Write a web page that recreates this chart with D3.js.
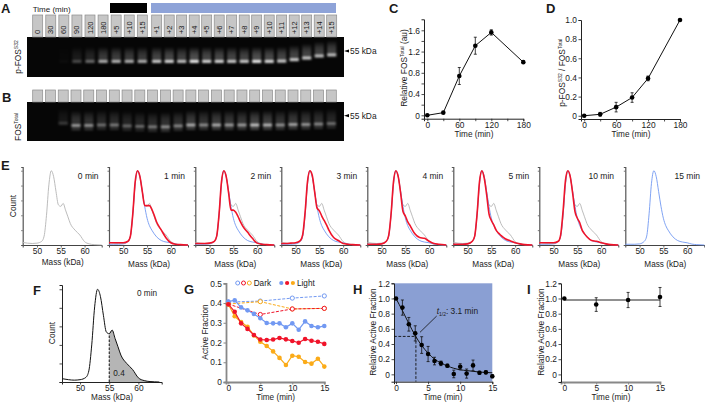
<!DOCTYPE html>
<html><head><meta charset="utf-8">
<script src="https://cdn.jsdelivr.net/npm/d3@7"></script>
<style>html,body{margin:0;padding:0;background:#fff}svg{display:block}text{font-family:"Liberation Sans",Arial,sans-serif;fill:#1a1a1a}</style>
</head><body><svg id="c" width="705" height="403"></svg>
<script>
// ---- data ----
const laneLabels=["0","30","60","90","120","180","+5","+10","+15","+1","+2","+3","+4","+5","+6","+7","+8","+9","+10","+11","+12","+13","+14","+15"];
const pfosIntensity=[0,0,.03,.28,.42,.72,.75,.72,.72,.85,.9,.8,1,.9,.9,.85,.85,1,.92,.85,.85,.85,.8,.8];
const pfosMass=[53,53,53,53,53,53,53,53,53,53,53,53,53,53,53,53,53,53,53,53.06,53.34,53.66,54.06,54.26];
const totalIntensity=[0,0,.22,.62,.58,.45,.5,.42,.42,.5,.6,.55,.72,.58,.72,.65,.65,.82,.75,.6,.68,.62,.55,.45];
const totalMass=[53,53,53.4,52.9,52.9,53,53,52.8,52.7,52.6,52.6,52.8,53,53,53,53,53,53,53,53,53.1,53.1,53.2,53.3];

const timeC=[0,30,60,90,120,180];
const valuesC=[0,.05,.74,1.31,1.56,1.0];
const errorsC=[0,0,.16,.16,.05,0];
const valuesD=[0,.015,.09,.19,.39,1.0];
const errorsD=[0,.02,.05,.05,.025,0];

const massAxis=[47,48,49,50,51,51.5,52,52.5,53,53.5,54,54.5,55,55.5,56,56.5,57,58,59,60,61,62,63.6];
const grayCurve=[.035,.025,.02,.025,.05,.12,.4,.81,1,.92,.72,.54,.52,.56,.47,.38,.29,.2,.135,.045,.015,.005,0];
const blueCurve=[.01,.01,.01,.015,.05,.12,.42,.83,1,.92,.72,.52,.36,.26,.2,.15,.11,.06,.04,.03,.012,.005,0];
const red1=[.03,.03,.03,.03,.05,.12,.42,.85,1,.92,.72,.53,.53,.53,.48,.4,.31,.2,.095,.03,.01,.005,0];
const red2=[.02,.02,.02,.025,.05,.12,.42,.85,1,.92,.7,.47,.47,.44,.38,.31,.25,.17,.09,.025,.01,.005,0];
const red3=[.02,.02,.025,.03,.06,.14,.44,.85,1,.94,.72,.5,.46,.39,.33,.27,.2,.1,.06,.02,.01,.005,0];
const red4=[.01,.01,.01,.015,.05,.13,.42,.85,1,.92,.7,.45,.39,.31,.26,.2,.15,.1,.09,.05,.02,.01,0];
const red5=[.01,.01,.01,.015,.05,.12,.42,.85,1,.9,.68,.42,.33,.27,.2,.16,.13,.08,.055,.03,.015,.005,0];
const red10=[.03,.03,.03,.03,.05,.14,.46,.87,1,.92,.7,.45,.36,.3,.2,.15,.11,.06,.05,.03,.015,.005,0];
const panelsE=[{label:"0 min",red:null,gray:true,blue:false},{label:"1 min",red:red1,gray:true,blue:true},{label:"2 min",red:red2,gray:true,blue:true},{label:"3 min",red:red3,gray:true,blue:true},{label:"4 min",red:red4,gray:true,blue:true},{label:"5 min",red:red5,gray:true,blue:true},{label:"10 min",red:red10,gray:true,blue:true},{label:"15 min",red:null,gray:false,blue:true}];

const minutes=[0,1,2,3,4,5,6,7,8,9,10,11,12,13,14,15];
const lightBlue=[.407,.414,.378,.363,.345,.323,.299,.297,.297,.277,.297,.265,.307,.284,.277,.284];
const lightRed=[.394,.356,.297,.269,.238,.215,.213,.215,.223,.216,.208,.199,.218,.209,.204,.193];
const lightOrange=[.394,.333,.304,.28,.236,.204,.182,.155,.122,.086,.133,.128,.101,.093,.118,.078];
const darkTimes=[0,5,10,15];
const darkBlue=[.405,.41,.425,.436];
const darkRed=[.395,.342,.37,.373];
const darkOrange=[.395,.407,.37,.373];

const relH=[1,.88,.66,.54,.386,.268,.175,.145,.114,.005,.10,.01,.118,.02,.026,-.026];
const errH=[0,.1,.09,.1,.11,.1,.05,.03,.02,.05,.04,.06,.07,.02,.02,.02];
const fitH=[1,.84,.67,.51,.38,.28,.2,.15,.11,.08,.06,.05,.04,.03,.025,.02];
const halfLife=3.1;
const timeI=[0,5,10,15];
const relI=[1,.92,.98,1.02];
const errI=[0,.09,.1,.125];
const fitI=[.98,.98,.98,.98];

// ---- drawing ----
const svg=d3.select("#c");
const F='"Liberation Sans",Arial,sans-serif';
const BLUE="#7299f2",RED="#f0142a",ORANGE="#fbab18",GRAY="#b4b4b4";
const defs=svg.append("defs");
defs.append("filter").attr("id","bl").attr("x","-30%").attr("y","-60%").attr("width","160%").attr("height","220%").append("feGaussianBlur").attr("stdDeviation",1);
const sg=defs.append("linearGradient").attr("id","smear").attr("x1",0).attr("x2",0).attr("y1",0).attr("y2",1);
[[0,0],[.4,.6],[.75,.85],[1,.3]].forEach(([o,a])=>sg.append("stop").attr("offset",o).attr("stop-color","#fff").attr("stop-opacity",a));

function txt(x,y,s,o={}){const t=svg.append("text").attr("x",x).attr("y",y).attr("font-size",o.size||8.2).attr("text-anchor",o.anchor||"middle").attr("dominant-baseline","central").text(s);
 if(o.bold)t.attr("font-weight","bold");if(o.rot)t.attr("transform",`rotate(${o.rot} ${x} ${y})`);return t;}
function vtxt(x,y,parts){const t=svg.append("text").attr("transform",`translate(${x},${y}) rotate(-90)`).attr("text-anchor","middle").attr("font-size",8.4);
 let prevSup=false;parts.forEach((p,i)=>{const s=t.append("tspan").text(p[0]);const sup=!!p[1];
  if(i==0)s.attr("dy",3);else if(sup&&!prevSup)s.attr("dy",-3);else if(!sup&&prevSup)s.attr("dy",3);
  if(sup)s.attr("font-size",5);prevSup=sup;});return t;}
[["A",1,8],["B",2,97],["C",389,8],["D",546,8],["E",1,165],["F",33,290],["G",184,289],["H",353,289],["I",527,289]].forEach(d=>txt(d[1],d[2],d[0],{size:13,bold:true,anchor:"start"}));

function gel(top,bot,boxTop,xs,inten,mass,yMass,smearK,labels,second){
 svg.append("rect").attr("x",27).attr("y",top).attr("width",317).attr("height",bot-top).attr("fill","#060606");
 const g=svg.append("g").attr("filter","url(#bl)");
 inten.forEach((v,i)=>{
  if(v<=0)return;const x=xs(i),ym=yMass(mass[i]),yt=yMass(mass[i]+smearK);
  g.append("rect").attr("x",x-4.6).attr("width",9.2).attr("y",yt).attr("height",ym-yt).attr("fill","url(#smear)").attr("opacity",v*.36);
  g.append("rect").attr("x",x-4.6).attr("width",9.2).attr("y",ym-1.4).attr("height",3).attr("fill","#fff").attr("opacity",v*.95);
  if(second&&v>.3)g.append("rect").attr("x",x-4.4).attr("width",8.8).attr("y",ym+2.6).attr("height",2.2).attr("fill","#fff").attr("opacity",v*.35);
 });
 inten.forEach((v,i)=>{
  svg.append("rect").attr("x",xs(i)-5).attr("width",10).attr("y",boxTop).attr("height",top-boxTop).attr("fill","#c6c6c6").attr("stroke","#8c8c8c").attr("stroke-width",.7);
  if(labels)txt(xs(i),34,labels[i],{size:7.5,anchor:"start",rot:-90});
 });
}
const xsA=d3.scaleLinear().domain([0,8,9,23]).range([37.7,142.3,156.7,331.7]);
const xsB=d3.scaleLinear().domain([0,23]).range([37.7,331.3]);
gel(37,77,15,xsA,pfosIntensity,pfosMass,d3.scaleLinear().domain([55,53]).range([51,61.3]),2.8,laneLabels,false);
gel(102,141,90,xsB,totalIntensity,totalMass,d3.scaleLinear().domain([55,53]).range([115.7,125]),3.2,null,true);
txt(32.7,9,"Time (min)",{anchor:"start",size:8});
svg.append("rect").attr("x",110).attr("y",3).attr("width",37).attr("height",10).attr("fill","#000");
svg.append("rect").attr("x",151).attr("y",3).attr("width",185).attr("height",10).attr("fill","#8ea3d8");
vtxt(18,57,[["p-FOS"],["S32",1]]);
vtxt(18,127,[["FOS"],["Total",1]]);
[51,115.7].forEach(y=>{svg.append("path").attr("d",`M344 ${y}l5 -1.6v3.2z`).attr("fill","#000");txt(350,y,"55 kDa",{anchor:"start",size:8.4});});

function axisB(scale,y,vals,o={}){const a=svg.append("g").attr("transform",`translate(0,${y})`).call(d3.axisBottom(scale).tickValues(vals).tickSize(o.t||2.5).tickPadding(.5).tickFormat(o.fmt||(d=>d)));style(a,o);return a;}
function axisL(scale,x,vals,o={}){const a=svg.append("g").attr("transform",`translate(${x},0)`).call(d3.axisLeft(scale).tickValues(vals).tickSize(o.t||2.5).tickPadding(1.5).tickFormat(o.fmt||(d=>d)));style(a,o);return a;}
function style(a,o){a.attr("font-size",8.4).attr("font-family",F);a.select(".domain").attr("stroke",o.col||"#222").attr("stroke-width",o.w||1);a.selectAll(".tick line").attr("stroke",o.col||"#222").attr("stroke-width",o.tw||.8);}
function points(xs,ys,errs,x,y,r){
 if(errs)xs.forEach((t,i)=>{if(!errs[i])return;const X=x(t),a=y(ys[i]-errs[i]),b=y(ys[i]+errs[i]);
  svg.append("path").attr("d",`M${X} ${a}V${b}M${X-1.5} ${a}h3M${X-1.5} ${b}h3`).attr("stroke","#111").attr("stroke-width",.8).attr("fill","none");});
 svg.append("g").selectAll("circle").data(xs).join("circle").attr("cx",d=>x(d)).attr("cy",(d,i)=>y(ys[i])).attr("r",r||2.3).attr("fill","#000");
}
function simpleLine(xs,ys,x,y,curve){return d3.line().x((d,i)=>x(xs[i])).y(d=>y(d)).curve(curve||d3.curveLinear)(ys);}

// C
{const x=d3.scaleLinear().domain([-6.2,180]).range([424,523.3]),y=d3.scaleLinear().domain([-.064,1.807]).range([118.7,19.3]);
 axisB(x,118.7,[0,30,60,90,120,150,180],{fmt:d=>d%60==0?d:""});
 axisL(y,424,[0,.2,.4,.6,.8,1,1.2,1.4,1.6],{fmt:d=>Math.round(d*10)%4==0?d:""});
 svg.append("path").attr("d",simpleLine(timeC,valuesC,x,y)).attr("fill","none").attr("stroke","#111").attr("stroke-width",1);
 points(timeC,valuesC,errorsC,x,y);
 txt(474,134,"Time (min)");vtxt(404,68,[["Relative FOS"],["Total",1],[" (au)"]]);}
// D
{const x=d3.scaleLinear().domain([-6,180]).range([581,680]),y=d3.scaleLinear().domain([-.034,1]).range([119,20]);
 axisB(x,119,[0,30,60,90,120,150,180],{fmt:d=>d%60==0?d:""});
 axisL(y,581,[0,.2,.4,.6,.8,1],{fmt:d=>d==0?"0":d.toFixed(1)});
 svg.append("path").attr("d",simpleLine(timeC,valuesD,x,y)).attr("fill","none").attr("stroke","#111").attr("stroke-width",1);
 points(timeC,valuesD,errorsD,x,y);
 txt(631,134,"Time (min)");vtxt(562.3,72.7,[["p-FOS"],["S32",1],[" / FOS"],["Total",1]]);}
// E
const curve=d3.curveMonotoneX;
panelsE.forEach((p,i)=>{
 const ax=[22.7,109,195.3,281.3,367.3,453.3,539.3,625.3][i];
 const x=d3.scaleLinear().domain([47,63.6]).range([ax,ax+79]),y=d3.scaleLinear().domain([0,1.05]).range([245,167]);
 axisB(x,245,[50,55,60],{col:"#444"});
 axisL(y,ax,[0,.2,.4,.6,.8,1],{fmt:()=>"",col:"#555",w:1.2,t:1.5});
 const dr=(v,c,w)=>svg.append("path").attr("d",simpleLine(massAxis,v,x,y,curve)).attr("fill","none").attr("stroke",c).attr("stroke-width",w);
 if(p.gray)dr(grayCurve,GRAY,.9);
 if(p.blue)dr(blueCurve,BLUE,.9);
 if(p.red)dr(p.red,RED,1.6);
 txt(ax+(i==6||i==7?62:65.5),175.7,p.label,{size:8.5});
 txt(ax+40,i==0?262:264,"Mass (kDa)");
});
vtxt(13,206,[["Count"]]);
// F
{const x=d3.scaleLinear().domain([46.9,64]).range([62,161.7]),y=d3.scaleLinear().domain([0,1.046]).range([382,285]);
 const iFrom=massAxis.indexOf(55),mx=massAxis.slice(iFrom),vx=grayCurve.slice(iFrom);
 svg.append("path").attr("d",d3.area().x((d,i)=>x(mx[i])).y0(y(0)).y1(d=>y(d)).curve(curve)(vx)).attr("fill","#b5b5b5");
 axisB(x,382,[50,55,60]);axisL(y,62,[0,.2,.4,.6,.8,1],{fmt:()=>""});
 svg.append("path").attr("d",simpleLine(massAxis,grayCurve,x,y,curve)).attr("fill","none").attr("stroke","#111").attr("stroke-width",1);
 svg.append("line").attr("x1",x(55)).attr("x2",x(55)).attr("y1",y(0)).attr("y2",y(vx[0])).attr("stroke","#111").attr("stroke-dasharray","2.5 1.5");
 txt(147,293,"0 min");txt(119,373,"0.4");txt(112,397.5,"Mass (kDa)");vtxt(52,333,[["Count"]]);}
// G
{const x=d3.scaleLinear().domain([-.36,15]).range([226,324.3]),y=d3.scaleLinear().domain([0,.5]).range([382,283.3]);
 const o={col:"#888",w:1.8,tw:1};
 axisB(x,382,[0,5,10,15],o);axisL(y,226,[0,.1,.2,.3,.4,.5],{...o,fmt:d=>d==0?"0":d.toFixed(1)});
 [[darkBlue,BLUE],[darkOrange,ORANGE],[darkRed,RED]].forEach(([v,c])=>{
  svg.append("path").attr("d",simpleLine(darkTimes,v,x,y)).attr("fill","none").attr("stroke",c).attr("stroke-width",1).attr("stroke-dasharray","3 1.5");
  svg.append("g").selectAll("circle").data(darkTimes).join("circle").attr("cx",d=>x(d)).attr("cy",(d,i)=>y(v[i])).attr("r",2.1).attr("fill","#fff").attr("stroke",c).attr("stroke-width",1);});
 [[lightBlue,BLUE],[lightOrange,ORANGE],[lightRed,RED]].forEach(([v,c])=>{
  svg.append("path").attr("d",simpleLine(minutes,v,x,y)).attr("fill","none").attr("stroke",c).attr("stroke-width",1.2);
  svg.append("g").selectAll("circle").data(minutes).join("circle").attr("cx",d=>x(d)).attr("cy",(d,i)=>y(v[i])).attr("r",2.3).attr("fill",c);});
 [BLUE,RED,ORANGE].forEach((c,i)=>{
  svg.append("circle").attr("cx",237.7+i*5.8).attr("cy",283).attr("r",2).attr("fill","#fff").attr("stroke",c);
  svg.append("circle").attr("cx",281.3+i*5.8).attr("cy",283).attr("r",2.1).attr("fill",c);});
 txt(253.7,283,"Dark",{anchor:"start"});txt(297,283,"Light",{anchor:"start"});
 txt(275.7,397.5,"Time (min)");vtxt(205,332,[["Active Fraction"]]);}
// H
{const x=d3.scaleLinear().domain([-.31,15]).range([394,492.3]),y=d3.scaleLinear().domain([-.097,1.2]).range([381.7,283.3]);
 svg.append("rect").attr("x",394).attr("y",283.3).attr("width",98.3).attr("height",98.4).attr("fill","#8a9fd3");
 axisB(x,381.7,[0,5,10,15]);axisL(y,394,[0,.2,.4,.6,.8,1,1.2],{fmt:d=>d==0?"0":d.toFixed(1)});
 svg.append("path").attr("d",simpleLine(minutes,fitH,x,y,d3.curveMonotoneX)).attr("fill","none").attr("stroke","#111").attr("stroke-width",1);
 svg.append("path").attr("d",`M394 ${y(.5)}H${x(halfLife)}V381.7`).attr("fill","none").attr("stroke","#111").attr("stroke-width",.9).attr("stroke-dasharray","2.8 1.6");
 points(minutes,relH,errH,x,y);
 svg.append("line").attr("x1",420).attr("y1",332.3).attr("x2",436.7).attr("y2",316).attr("stroke","#111").attr("stroke-width",.8);
 const t=svg.append("text").attr("x",436.7).attr("y",314).attr("font-size",8.4);
 t.append("tspan").attr("font-style","italic").text("t");
 t.append("tspan").attr("font-size",5).attr("dy",2).text("1/2");
 t.append("tspan").attr("dy",-2).text(": 3.1 min");
 txt(443,397.5,"Time (min)");vtxt(373,332,[["Relative Active Fraction"]]);}
// I
{const x=d3.scaleLinear().domain([-.52,15]).range([561,660]),y=d3.scaleLinear().domain([-.1,1.2]).range([382,283.3]);
 axisB(x,382,[0,5,10,15],{col:"#888",w:1.8,tw:1});axisL(y,561,[0,.2,.4,.6,.8,1,1.2],{fmt:d=>d==0?"0":d.toFixed(1)});
 svg.append("path").attr("d",simpleLine(timeI,fitI,x,y)).attr("fill","none").attr("stroke","#222").attr("stroke-width",1);
 points(timeI,relI,errI,x,y);
 txt(611,397.5,"Time (min)");vtxt(541,332,[["Relative Active Fraction"]]);}
</script></body></html>
